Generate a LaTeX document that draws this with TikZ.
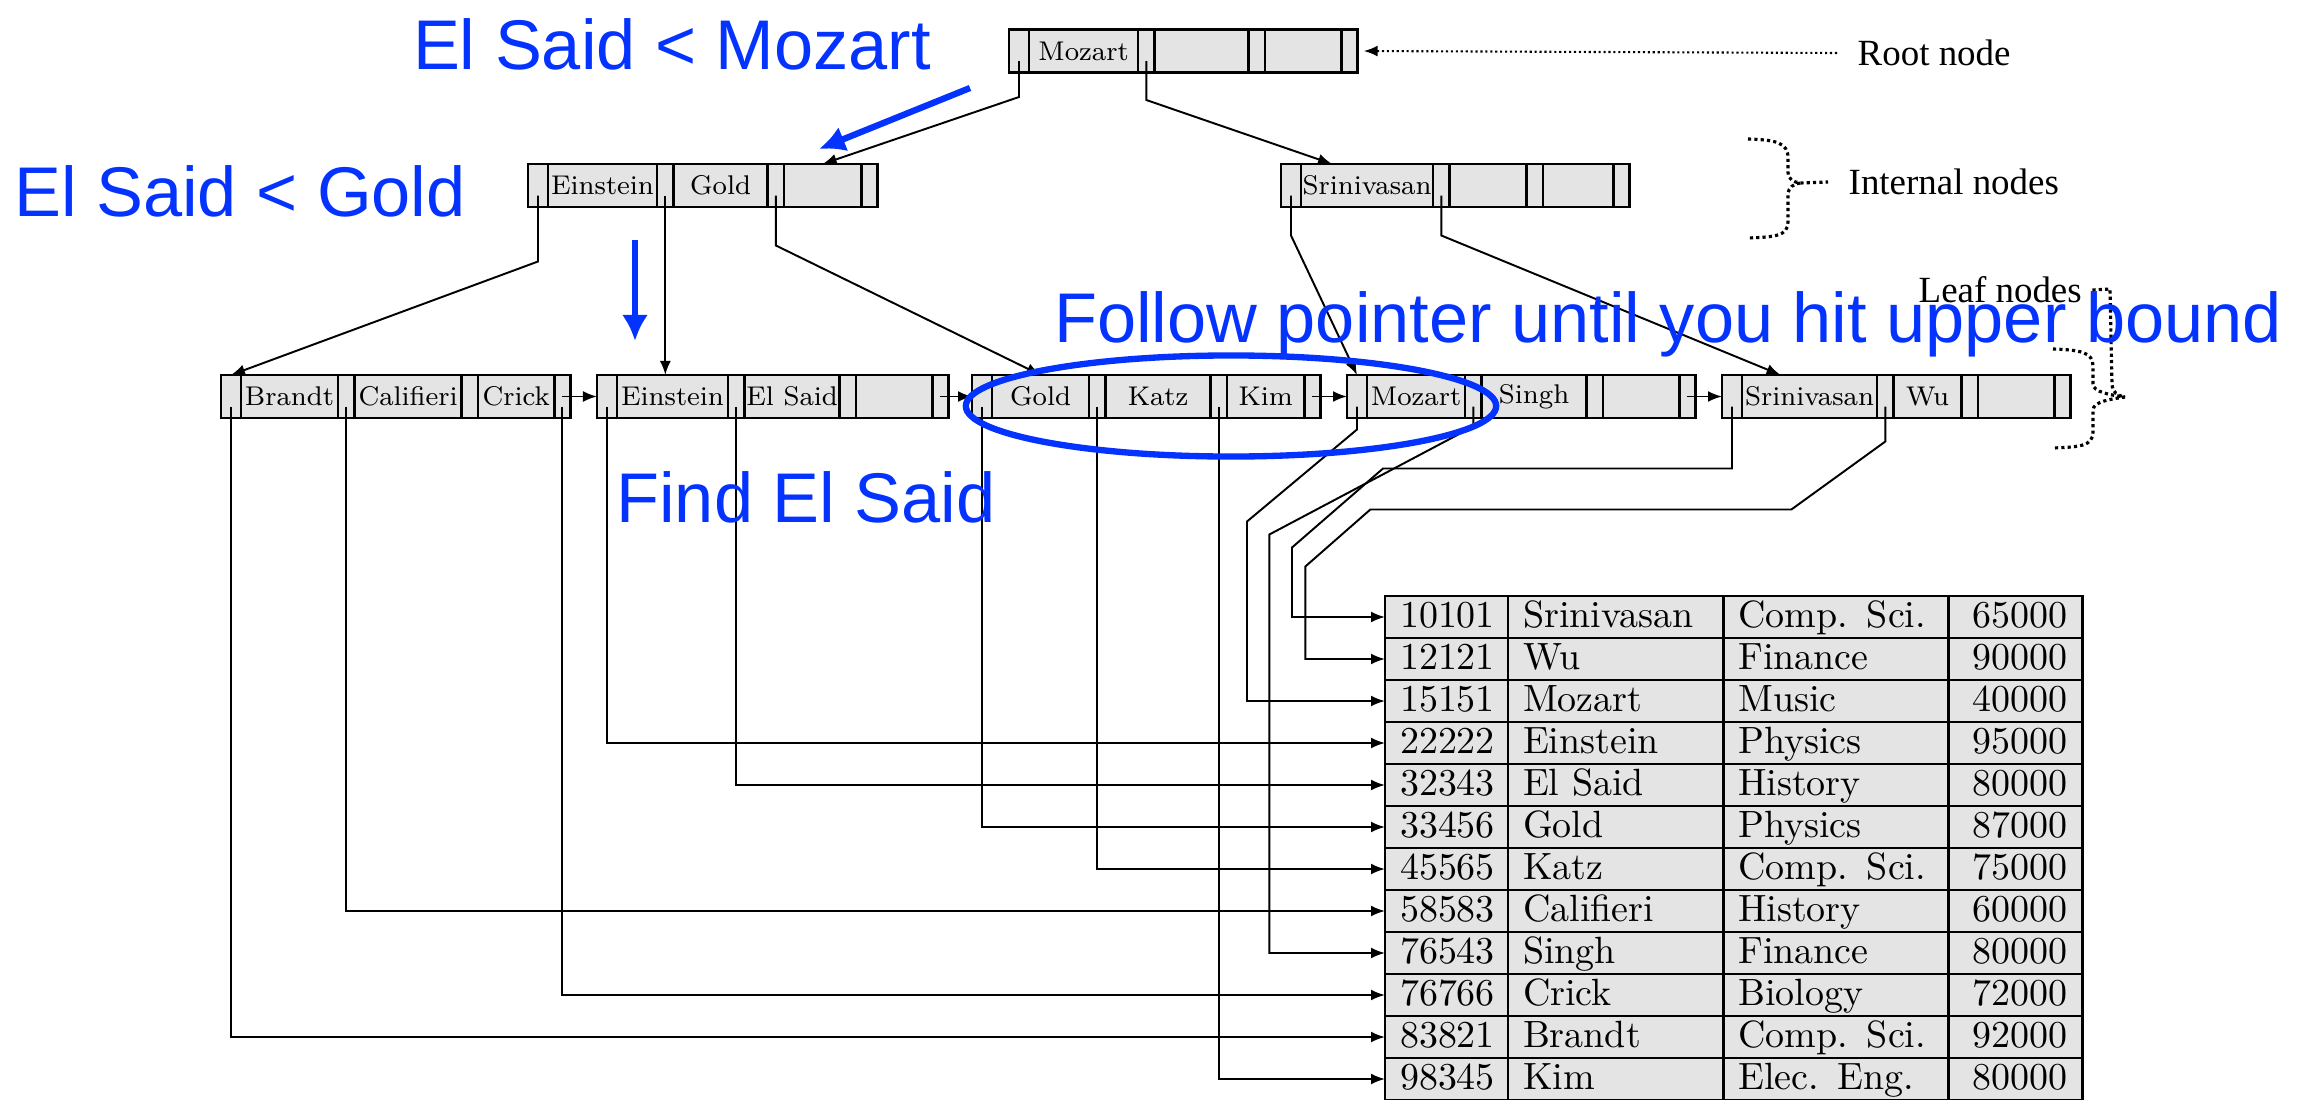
\documentclass[tikz,border=0pt]{standalone}
\usepackage{fontspec}
\newfontfamily\notefont{Liberation Sans}
\newfontfamily\sidefont{Liberation Serif}
\usetikzlibrary{positioning,arrows.meta}
\definecolor{cellgray}{RGB}{228,228,228}
\definecolor{noteblue}{RGB}{4,51,255}

\newcommand{\bpnode}[8]{%
  \node[bpptr,minimum width=2mm,anchor=west] (#1p0) at (#2) {};
  \node[bpkey,minimum width=#3,right=0pt of #1p0] (#1k0) {#4};
  \node[bpptr,right=0pt of #1k0] (#1p1) {};
  \node[bpkey,minimum width=#5,right=0pt of #1p1] (#1k1) {#6};
  \node[bpptr,right=0pt of #1k1] (#1p2) {};
  \node[bpkey,minimum width=#7,right=0pt of #1p2] (#1k2) {#8};
  \node[bpptr,right=0pt of #1k2] (#1p3) {};}

\begin{document}
\begin{tikzpicture}[x=0.01cm,y=-0.01cm,>={Latex[length=1.4mm,width=1.1mm]},
  bpbox/.style={draw,line width=0.75pt,fill=cellgray,inner sep=0pt,outer sep=0pt,minimum height=4.3mm},
  bpptr/.style={bpbox,minimum width=1.65mm},
  bpkey/.style={bpbox,font=\fontsize{7.7}{9}\selectfont},
  ptrline/.style={->,line width=0.55pt},
  tcell/.style={bpbox,minimum height=4.2mm,anchor=north west,inner xsep=1.5mm,align=left,
    font=\fontsize{10.8}{12}\selectfont,text height=2.8mm,text depth=0.8mm},
  sidelbl/.style={font=\sidefont\fontsize{10.5}{12}\selectfont,inner sep=0pt},
  note/.style={text=noteblue,font=\notefont\fontsize{20}{24}\selectfont,inner sep=0pt,anchor=base},
  notearrow/.style={noteblue,line width=1.8pt,-{Latex[length=2.6mm,width=2.6mm]}},
  dots/.style={line width=0.9pt,dash pattern=on 0.9pt off 0.9pt},
  thindots/.style={line width=0.6pt,dash pattern=on 0.6pt off 0.8pt}]
\useasboundingbox (0,0) rectangle (2305,1100);

\bpnode{rt}{1009,51}{10.9mm}{Mozart}{9.4mm}{}{7.6mm}{}
\bpnode{a}{528,185.5}{10.9mm}{Einstein}{9.4mm}{Gold}{7.7mm}{}
\bpnode{b}{1281,185.5}{13.2mm}{Srinivasan}{7.7mm}{}{7.0mm}{}
\bpnode{l1}{221,396.5}{9.7mm}{Brandt}{10.7mm}{Califieri}{7.6mm}{Crick}
\bpnode{l2}{597,396.5}{11.1mm}{Einstein}{9.5mm}{El Said}{7.6mm}{}
\bpnode{l3}{972,396.5}{9.7mm}{Gold}{10.5mm}{Katz}{7.7mm}{Kim}
\bpnode{l4}{1347,396.5}{9.8mm}{Mozart}{10.5mm}{Singh}{7.6mm}{}
\bpnode{l5}{1722,396.5}{13.5mm}{Srinivasan}{6.8mm}{Wu}{7.6mm}{}

\foreach \id/\nm/\dept/\sal [count=\i from 1] in {10101/Srinivasan/Comp. Sci./65000,
    12121/Wu/Finance/90000, 15151/Mozart/Music/40000, 22222/Einstein/Physics/95000,
    32343/El Said/History/80000, 33456/Gold/Physics/87000, 45565/Katz/Comp. Sci./75000,
    58583/Califieri/History/60000, 76543/Singh/Finance/80000, 76766/Crick/Biology/72000,
    83821/Brandt/Comp. Sci./92000, 98345/Kim/Elec. Eng./80000} {
  \node[tcell,text width=9.3mm] (id\i) at (1385,{596+42*(\i-1)}) {\id};
  \node[tcell,text width=18.5mm,right=0pt of id\i] (nm\i) {\nm};
  \node[tcell,text width=19.5mm,right=0pt of nm\i] (dp\i) {\dept};
  \node[tcell,text width=10.4mm,align=right,right=0pt of dp\i] (sal\i) {\sal};
}

\node[sidelbl,anchor=west] (rootlab) at (1857,53) {Root node};
\node[sidelbl,anchor=west] (intlab) at (1848,182) {Internal nodes};
\node[sidelbl,anchor=west] (leaflab) at (1918,290) {Leaf nodes};

\draw[ptrline] ([yshift=-1mm]rtp0.center) -- ++(0,36) -- (ak2.north);
\draw[ptrline] ([yshift=-1mm]rtp1.center) -- ++(0,39) -- ([xshift=-3.5mm]bk0.north);
\draw[ptrline] ([yshift=-1mm]ap0.center) -- ++(0,66) -- (l1p0.north);
\draw[ptrline] ([yshift=-1mm]ap1.center) -- (ap1.center |- l2k0.north);
\draw[ptrline] ([yshift=-1mm]ap2.center) -- ++(0,50) -- (l3k0.north);
\draw[ptrline] ([yshift=-1mm]bp0.center) -- ++(0,40) -- (l4p0.north);
\draw[ptrline] ([yshift=-1mm]bp1.center) -- ++(0,40) -- ([xshift=-2.9mm]l5k0.north);

\draw[ptrline] (l1p3.center) -- (l2p0.west);
\draw[ptrline] (l2p3.center) -- (l3p0.west);
\draw[ptrline] (l3p3.center) -- (l4p0.west);
\draw[ptrline] (l4p3.center) -- (l5p0.west);

\draw[ptrline] ([yshift=-1mm]l1p0.center) |- (id11.west);
\draw[ptrline] ([yshift=-1mm]l1p1.center) |- (id8.west);
\draw[ptrline] ([yshift=-1mm]l1p3.center) |- (id10.west);
\draw[ptrline] ([yshift=-1mm]l2p0.center) |- (id4.west);
\draw[ptrline] ([yshift=-1mm]l2p1.center) |- (id5.west);
\draw[ptrline] ([yshift=-1mm]l3p0.center) |- (id6.west);
\draw[ptrline] ([yshift=-1mm]l3p1.center) |- (id7.west);
\draw[ptrline] ([yshift=-1mm]l3p2.center) |- (id12.west);
\draw[ptrline] ([yshift=-1mm]l4p0.center) -- ++(0,23) -- ++(-110,92) |- (id3.west);
\draw[ptrline] ([yshift=-1mm]l4p1.center) -- ++(0,20) -- ++(-204,108) |- (id9.west);
\draw[ptrline] ([yshift=-1mm]l5p0.center) -- ++(0,62) -- ++(-349,0) -- ++(-91,79) |- (id1.west);
\draw[ptrline] ([yshift=-1mm]l5p1.center) -- ++(0,35) -- ++(-94,68) -- ++(-421,0) -- ++(-65,57) |- (id2.west);

\draw[thindots,->] ([xshift=-2mm]rootlab.west) -- ([xshift=0.6mm]rtp3.east);
\draw[dots] (1748,139) .. controls (1775,140) and (1788,142) .. (1788,158) -- (1788,172)
  .. controls (1788,180) and (1794,182) .. (1800,183) -- ([xshift=-2mm]intlab.west);
\draw[dots] (1800,183) .. controls (1794,184) and (1788,187) .. (1788,195) -- (1788,222)
  .. controls (1788,236) and (1775,237) .. (1748,238);
\draw[dots] (2053,349) .. controls (2080,350) and (2093,352) .. (2093,366) -- (2093,384)
  .. controls (2093,392) and (2110,395) .. (2125,397);
\draw[dots] (2125,397) .. controls (2110,399) and (2093,402) .. (2093,410) -- (2093,432)
  .. controls (2093,446) and (2080,447) .. (2053,448);
\draw[dots] ([xshift=1mm]leaflab.east) -- (2110,289) -- (2112,385)
  .. controls (2112,392) and (2118,396) .. (2125,397);

\draw[noteblue,line width=1.8pt] (1231,406) ellipse [x radius=26.5mm,y radius=5.05mm];
\coordinate (m1a) at (970,88);
\coordinate (m1b) at (819,149);
\coordinate (m2a) at (635,240);
\coordinate (m2b) at (635,341);
\draw[notearrow] (m1a) -- (m1b);
\draw[notearrow] (m2a) -- (m2b);
\node[note] (q1) at (672,69) {El Said < Mozart};
\node[note] (q2) at (240,216) {El Said < Gold};
\node[note] (q3) at (1668,342) {Follow pointer until you hit upper bound};
\node[note] (q4) at (806,522) {Find El Said};
\end{tikzpicture}
\end{document}
